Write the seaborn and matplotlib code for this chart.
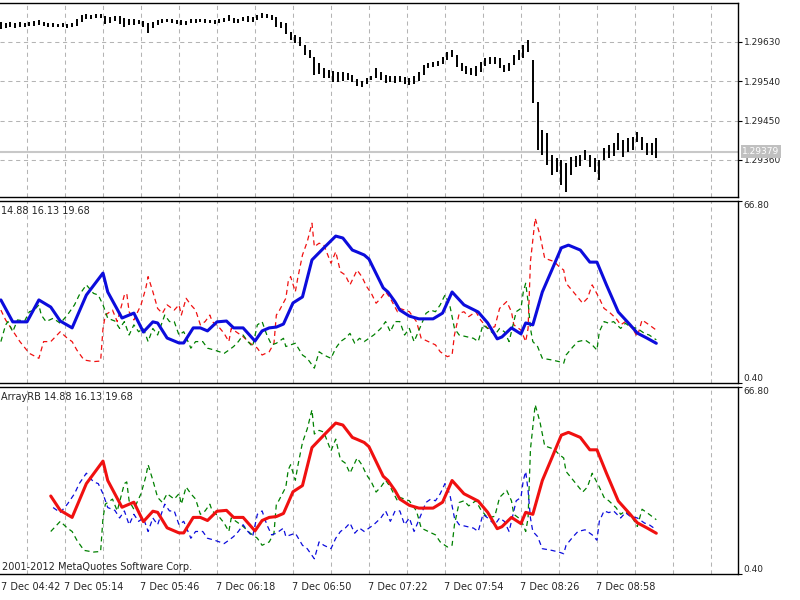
import numpy as np
import matplotlib
matplotlib.use("Agg")
import matplotlib.pyplot as plt
import matplotlib.transforms as mtransforms
from matplotlib.ticker import FormatStrFormatter
import seaborn as sns

# time axis: minutes after 7 Dec 04:42, one bar every 2 minutes
bar_t = np.arange(5, 282, 2)
bar_high = [1.29676, 1.29674, 1.29676, 1.29674, 1.29676, 1.29674, 1.29676, 1.29678, 1.29680, 1.29676,
            1.29674, 1.29674, 1.29671, 1.29674, 1.29671, 1.29674, 1.29683, 1.29692, 1.29694, 1.29692,
            1.29694, 1.29694, 1.29690, 1.29687, 1.29690, 1.29690, 1.29685, 1.29683, 1.29683, 1.29680,
            1.29678, 1.29674, 1.29676, 1.29680, 1.29683, 1.29683, 1.29683, 1.29680, 1.29680, 1.29678,
            1.29683, 1.29683, 1.29683, 1.29683, 1.29680, 1.29680, 1.29683, 1.29685, 1.29692, 1.29685,
            1.29683, 1.29687, 1.29690, 1.29687, 1.29692, 1.29696, 1.29694, 1.29692, 1.29687, 1.29676,
            1.29674, 1.29653, 1.29646, 1.29641, 1.29623, 1.29612, 1.29596, 1.29582, 1.29570, 1.29566,
            1.29564, 1.29561, 1.29561, 1.29559, 1.29554, 1.29545, 1.29541, 1.29548, 1.29552, 1.29570,
            1.29561, 1.29554, 1.29552, 1.29552, 1.29552, 1.29550, 1.29548, 1.29552, 1.29561, 1.29577,
            1.29582, 1.29584, 1.29586, 1.29596, 1.29607, 1.29612, 1.29600, 1.29582, 1.29575, 1.29570,
            1.29575, 1.29584, 1.29593, 1.29596, 1.29596, 1.29593, 1.29577, 1.29582, 1.29600, 1.29612,
            1.29623, 1.29635, 1.29589, 1.29493, 1.29428, 1.29422, 1.29371, 1.29364, 1.29360, 1.29353,
            1.29367, 1.29369, 1.29371, 1.29383, 1.29371, 1.29364, 1.29360, 1.29387, 1.29394, 1.29399,
            1.29422, 1.29406, 1.29410, 1.29412, 1.29424, 1.29412, 1.29399, 1.29399, 1.29410]
bar_low = [1.29660, 1.29662, 1.29664, 1.29662, 1.29664, 1.29664, 1.29667, 1.29667, 1.29669, 1.29667,
           1.29664, 1.29664, 1.29664, 1.29664, 1.29662, 1.29664, 1.29667, 1.29676, 1.29683, 1.29683,
           1.29685, 1.29685, 1.29671, 1.29674, 1.29678, 1.29671, 1.29664, 1.29669, 1.29669, 1.29671,
           1.29664, 1.29651, 1.29662, 1.29669, 1.29674, 1.29676, 1.29674, 1.29671, 1.29669, 1.29669,
           1.29674, 1.29674, 1.29676, 1.29674, 1.29674, 1.29671, 1.29674, 1.29676, 1.29678, 1.29674,
           1.29674, 1.29678, 1.29676, 1.29676, 1.29680, 1.29685, 1.29685, 1.29680, 1.29664, 1.29662,
           1.29648, 1.29635, 1.29628, 1.29621, 1.29600, 1.29593, 1.29554, 1.29557, 1.29548, 1.29548,
           1.29538, 1.29538, 1.29541, 1.29543, 1.29538, 1.29529, 1.29527, 1.29534, 1.29543, 1.29548,
           1.29543, 1.29536, 1.29538, 1.29536, 1.29538, 1.29534, 1.29532, 1.29534, 1.29541, 1.29554,
           1.29570, 1.29573, 1.29575, 1.29580, 1.29589, 1.29596, 1.29573, 1.29564, 1.29557, 1.29554,
           1.29552, 1.29561, 1.29575, 1.29580, 1.29580, 1.29570, 1.29561, 1.29564, 1.29577, 1.29589,
           1.29593, 1.29607, 1.29490, 1.29383, 1.29371, 1.29349, 1.29325, 1.29332, 1.29303, 1.29287,
           1.29325, 1.29344, 1.29346, 1.29360, 1.29344, 1.29332, 1.29314, 1.29360, 1.29364, 1.29369,
           1.29383, 1.29367, 1.29379, 1.29383, 1.29401, 1.29383, 1.29371, 1.29371, 1.29364]
last_close = 1.29379
price_ticks = [1.29360, 1.29450, 1.29540, 1.29630]

# indicator buffers (vertices)
main_t = [5, 10, 16, 21, 26, 30, 35, 41, 48, 50, 56, 61, 65, 69, 71, 75, 80, 82, 86, 89,
          92, 96, 100, 103, 107, 112, 115, 118, 121, 124, 128, 132, 136, 141, 146, 149, 153, 155, 158, 160,
          166, 168, 171, 173, 177, 181, 187, 191, 195, 200, 206, 210, 214, 216, 220, 224, 226, 229, 233, 237,
          241, 244, 249, 253, 256, 260, 265, 270, 273, 277, 281]
main_v = [30.7, 22.7, 22.7, 30.7, 28.1, 23.0, 20.5, 32.5, 40.5, 33.6, 24.1, 25.9, 19.0, 22.7, 22.3, 16.8, 15.0, 15.0, 20.5, 20.5,
          19.4, 22.7, 23.0, 20.5, 20.5, 15.7, 19.4, 20.5, 20.8, 21.9, 29.6, 31.8, 45.3, 49.7, 54.0, 53.3, 48.9, 48.2, 47.1, 45.6,
          35.1, 33.6, 30.0, 27.0, 24.8, 23.8, 23.8, 25.9, 33.6, 28.9, 26.3, 22.3, 16.5, 17.2, 20.5, 18.3, 22.3, 21.6, 33.6, 41.6,
          49.7, 50.7, 48.9, 44.5, 44.5, 36.2, 26.3, 21.6, 18.6, 16.8, 14.88]

fast_t = [5, 7, 13, 17, 21, 23, 26, 30, 33, 35, 37, 40, 44, 47, 48, 49, 52, 54, 57, 58,
          59, 61, 64, 66, 67, 69, 71, 73, 75, 78, 80, 81, 83, 85, 87, 89, 91, 93, 94, 97,
          99, 101, 102, 104, 107, 110, 113, 115, 118, 120, 121, 122, 125, 126, 127, 129, 130, 132, 134, 136,
          137, 139, 141, 144, 146, 148, 150, 152, 153, 155, 157, 159, 161, 163, 165, 167, 169, 172, 173,
          175, 177, 180, 182, 185, 188, 190, 193, 195, 196, 198, 200, 202, 205, 207, 210, 213, 215, 218, 220,
          221, 224, 226, 227, 228, 230, 232, 234, 236, 238, 240, 242, 243, 246, 250, 252, 254, 257, 259, 261,
          264, 266, 268, 271, 273, 275, 278, 281]
fast_v = [27.0, 23.4, 15.5, 11.2, 9.4, 15.5, 15.5, 19.1, 16.7, 15.5, 12.4, 8.8, 8.2, 8.4, 20.3, 25.2, 27.0, 22.8, 32.5, 33.1,
          26.4, 23.4, 28.9, 34.9, 39.2, 33.7, 27.6, 25.8, 28.9, 27.0, 28.9, 25.2, 31.3, 28.9, 27.0, 21.6, 22.8, 25.2, 22.8, 20.6,
          18.5, 15.5, 20.3, 19.1, 17.3, 14.9, 13.1, 10.6, 11.8, 14.9, 25.2, 26.4, 31.3, 37.4, 39.2, 33.7, 38.6, 47.1, 51.9, 58.7,
          50.1, 51.4, 50.8, 44.1, 48.3, 41.0, 39.8, 36.2, 38.0, 41.6, 39.2, 35.6, 33.1, 29.5, 31.3, 33.7, 31.3, 26.4, 27.6,
          27.0, 26.4, 22.8, 16.7, 15.5, 14.3, 11.8, 10.0, 10.6, 17.9, 25.8, 26.4, 24.6, 26.4, 23.4, 20.3, 20.9, 27.6, 30.1, 26.4,
          21.6, 19.7, 15.5, 20.3, 44.7, 60.5, 54.4, 45.9, 45.3, 44.7, 42.9, 41.6, 36.8, 33.7, 29.5, 31.3, 36.2, 31.3, 27.6, 26.4,
          24.0, 21.6, 22.8, 20.3, 17.3, 23.4, 21.6, 19.68]

slow_t = [5, 7, 8, 10, 12, 15, 17, 19, 21, 22, 24, 27, 30, 33, 36, 38, 41, 44, 46, 48,
          50, 53, 55, 57, 59, 61, 63, 65, 67, 69, 71, 73, 74, 76, 78, 80, 82, 85, 87, 90,
          92, 95, 97, 99, 101, 103, 105, 107, 109, 111, 113, 115, 117, 119, 121, 124, 125, 127, 129, 132,
          134, 137, 139, 141, 144, 146, 148, 150, 152, 154, 156, 158, 160, 162, 165, 167, 169, 171, 173,
          175, 177, 179, 182, 184, 186, 188, 190, 192, 194, 196, 198, 201, 204, 206, 208, 210, 213, 215, 217,
          219, 222, 224, 225, 226, 227, 228, 229, 231, 233, 237, 240, 242, 243, 246, 248, 251, 254, 256, 257,
          259, 261, 263, 266, 268, 270, 273, 276, 278, 281]
slow_v = [15.5, 21.6, 22.8, 19.1, 23.4, 23.0, 26.4, 27.0, 28.9, 25.2, 22.8, 24.0, 22.2, 25.2, 28.9, 32.5, 36.2, 33.1, 32.5, 28.9,
          24.0, 23.0, 20.3, 22.8, 17.9, 21.6, 19.1, 20.3, 15.5, 20.3, 17.9, 22.8, 25.2, 22.8, 22.8, 17.9, 19.1, 13.1, 15.5, 15.5,
          13.1, 12.4, 11.8, 11.2, 12.4, 13.7, 15.5, 17.9, 15.5, 13.7, 21.6, 22.8, 17.9, 14.3, 14.9, 16.7, 13.7, 14.3, 14.9, 10.6,
          9.4, 5.8, 11.8, 10.6, 9.4, 13.1, 15.5, 16.7, 18.5, 14.9, 16.7, 15.5, 16.7, 17.9, 20.3, 22.8, 19.1, 22.8, 22.8,
          17.9, 20.3, 15.5, 21.6, 25.8, 27.0, 26.4, 28.9, 32.5, 28.9, 20.3, 17.9, 17.3, 16.7, 15.5, 21.6, 20.3, 17.9, 20.3, 19.1,
          15.5, 26.4, 27.6, 33.7, 36.8, 30.1, 20.3, 15.5, 13.7, 9.4, 8.8, 8.2, 7.6, 10.6, 13.7, 15.5, 16.1, 14.3, 12.4, 19.1,
          22.8, 22.2, 22.8, 20.3, 22.2, 20.9, 20.3, 18.5, 17.9, 16.13]

rb_start = 26  # first bar of the ArrayRB window
grid_t = list(range(16, 316, 16))
label_t = [0, 32, 64, 96, 128, 160, 192, 224, 256]
time_labels = ["7 Dec 04:42", "7 Dec 05:14", "7 Dec 05:46", "7 Dec 06:18", "7 Dec 06:50",
               "7 Dec 07:22", "7 Dec 07:54", "7 Dec 08:26", "7 Dec 08:58"]
ind_ticks = [0.4, 66.8]
ind_text = "14.88 16.13 19.68"

sns.set_style("white")
plt.rcParams["font.family"] = ["DejaVu Sans"]
plt.rcParams["font.size"] = 6.5

GRID = "#b4b4b4"
BLUE, RED, GREEN = "#0c0cdc", "#f01010", "#008000"
DASH = (0, (4, 3))
XMIN, XMAX = 4.63, 315.4

fig = plt.figure(figsize=(8, 6), dpi=100)
ax1 = fig.add_axes([0, 0.6717, 0.9225, 0.3233])
ax2 = fig.add_axes([0, 0.3617, 0.9225, 0.3033])
ax3 = fig.add_axes([0, 0.0433, 0.9225, 0.3117])

for ax in (ax1, ax2, ax3):
    ax.set_xlim(XMIN, XMAX)
    ax.spines["left"].set_visible(False)
    for s in ("top", "right", "bottom"):
        ax.spines[s].set_color("black")
        ax.spines[s].set_linewidth(1.0)
    ax.set_xticks(grid_t)
    ax.tick_params(axis="x", length=0, labelbottom=False)
    ax.grid(axis="x", color=GRID, ls=(0, (4, 3.5)), lw=0.75)
    ax.yaxis.tick_right()
    ax.tick_params(axis="y", length=3, width=0.8, pad=1, labelsize=6.5, direction="out", color="black")

# price pane
ax1.axhline(last_close, color="#c8c8c8", lw=1.5, zorder=1)
ax1.vlines(bar_t, bar_low, bar_high, color="black", lw=1.4, zorder=3)
ax1.set_ylim(1.29275, 1.29719)
ax1.set_yticks(price_ticks)
ax1.yaxis.set_major_formatter(FormatStrFormatter("%.5f"))
ax1.grid(axis="y", color=GRID, ls=(0, (4, 3.5)), lw=0.75)
tr = mtransforms.blended_transform_factory(ax1.transAxes, ax1.transData)
ax1.text(1.006, last_close, f"{last_close:.5f}", transform=tr, va="center", ha="left",
         color="white", fontsize=6.5,
         bbox=dict(boxstyle="square,pad=0.2", fc="#c0c0c0", ec="none"), zorder=5)

# indicator pane
sns.lineplot(x=fast_t, y=fast_v, ax=ax2, color=RED, lw=0.9, linestyle=DASH)
sns.lineplot(x=slow_t, y=slow_v, ax=ax2, color=GREEN, lw=0.9, linestyle=DASH)
sns.lineplot(x=main_t, y=main_v, ax=ax2, color=BLUE, lw=2.2)


# ArrayRB pane: same buffers, window starts later
def from_start(t, v):
    return [a for a in t if a >= rb_start], [b for a, b in zip(t, v) if a >= rb_start]


for (t, v), col, lw, ls in [(from_start(fast_t, fast_v), GREEN, 0.9, DASH),
                            (from_start(slow_t, slow_v), BLUE, 0.9, DASH),
                            (from_start(main_t, main_v), RED, 2.2, "-")]:
    sns.lineplot(x=t, y=v, ax=ax3, color=col, lw=lw, linestyle=ls)

for ax in (ax2, ax3):
    ax.set_ylim(ind_ticks[0], ind_ticks[1])
    ax.set_yticks(ind_ticks)
    ax.set_yticklabels([f"{v:.2f}" for v in ind_ticks])
    lbls = ax.get_yticklabels()
    lbls[0].set_va("bottom")
    lbls[1].set_va("top")
    ax.set_xlabel("")
    ax.set_ylabel("")

ax2.text(0.002, 0.945, ind_text, transform=ax2.transAxes, ha="left", va="center", fontsize=7)
ax3.text(0.002, 0.947, "ArrayRB " + ind_text, transform=ax3.transAxes, ha="left", va="center", fontsize=7)
ax3.text(0.003, 0.037, "2001-2012 MetaQuotes Software Corp.", transform=ax3.transAxes,
         ha="left", va="center", fontsize=7)

# time axis
ax3.set_xticks([t for t in label_t if t > XMIN], minor=True)
ax3.tick_params(axis="x", which="minor", length=4, width=0.8, direction="out", color="black")
trx = mtransforms.blended_transform_factory(ax3.transData, ax3.transAxes)
for t, s in zip(label_t, time_labels):
    ax3.text(max(t - 0.3, XMIN + 0.3), -0.07, s, transform=trx, ha="left", va="center",
             fontsize=7, clip_on=False)

fig.savefig("out.png", dpi=100)
